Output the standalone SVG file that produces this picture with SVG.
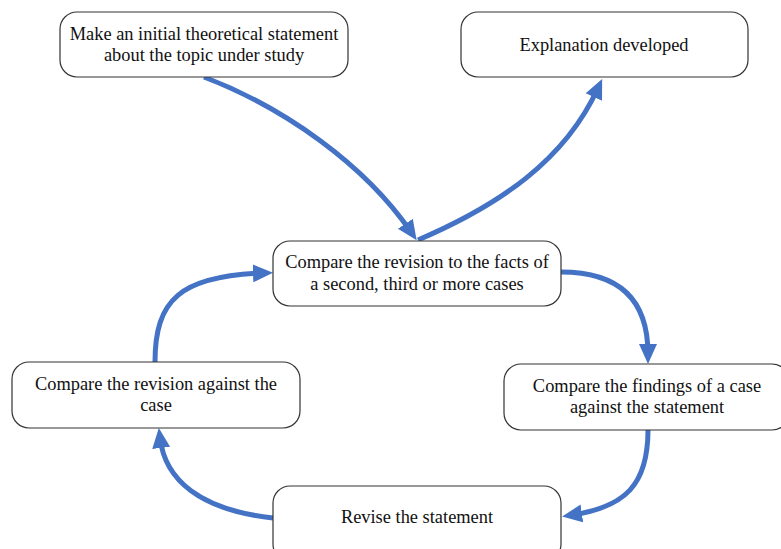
<svg xmlns="http://www.w3.org/2000/svg" width="781" height="549" viewBox="0 0 781 549">
  <style>
    .box { fill: #ffffff; stroke: #333333; stroke-width: 1.2; }
    .label { font-family: 'Liberation Serif', 'Times New Roman', serif; font-size: 18.4px; fill: #111111; text-anchor: middle; }
    .flow { fill: none; stroke: #4472C4; stroke-width: 5; marker-end: url(#head); }
  </style>
  <defs>
    <marker id="head" viewBox="0 0 20 20" refX="10" refY="10" markerWidth="20" markerHeight="20" markerUnits="userSpaceOnUse" orient="auto">
      <path d="M0,1 L20,10 L0,19 z" fill="#4472C4"/>
    </marker>
  </defs>
  <rect width="781" height="549" fill="#ffffff"/>

  <!-- curved flow arrows between the steps -->
  <g id="connectors">
    <path class="flow" d="M204,77 C285,108 365,165 411,232"/>
    <path class="flow" d="M418,240 C500,205 565,160 598,88"/>
    <path class="flow" d="M561,272 C625,272 648,305 648,354"/>
    <path class="flow" d="M648,430 C648,485 625,507 572,515"/>
    <path class="flow" d="M273,518 C200,510 165,480 160,438"/>
    <path class="flow" d="M155,362 C155,300 180,276 263,273"/>
  </g>

  <g id="initial-statement">
    <rect class="box" x="60" y="12" width="288" height="65" rx="17"/>
    <text class="label" x="204" y="40">Make an initial theoretical statement</text>
    <text class="label" x="204" y="61">about the topic under study</text>
  </g>

  <g id="explanation">
    <rect class="box" x="461" y="12" width="287" height="65" rx="17"/>
    <text class="label" x="604" y="51">Explanation developed</text>
  </g>

  <g id="compare-more-cases">
    <rect class="box" x="273" y="241" width="288" height="65" rx="17"/>
    <text class="label" x="417" y="268">Compare the revision to the facts of</text>
    <text class="label" x="417" y="290">a second, third or more cases</text>
  </g>

  <g id="compare-revision">
    <rect class="box" x="12" y="362" width="288" height="66" rx="17"/>
    <text class="label" x="156" y="390">Compare the revision against the</text>
    <text class="label" x="156" y="411">case</text>
  </g>

  <g id="compare-findings">
    <rect class="box" x="504" y="364" width="285" height="66" rx="17"/>
    <text class="label" x="647" y="392">Compare the findings of a case</text>
    <text class="label" x="647" y="413">against the statement</text>
  </g>

  <g id="revise">
    <rect class="box" x="273" y="486" width="288" height="75" rx="17"/>
    <text class="label" x="417" y="523">Revise the statement</text>
  </g>
</svg>
